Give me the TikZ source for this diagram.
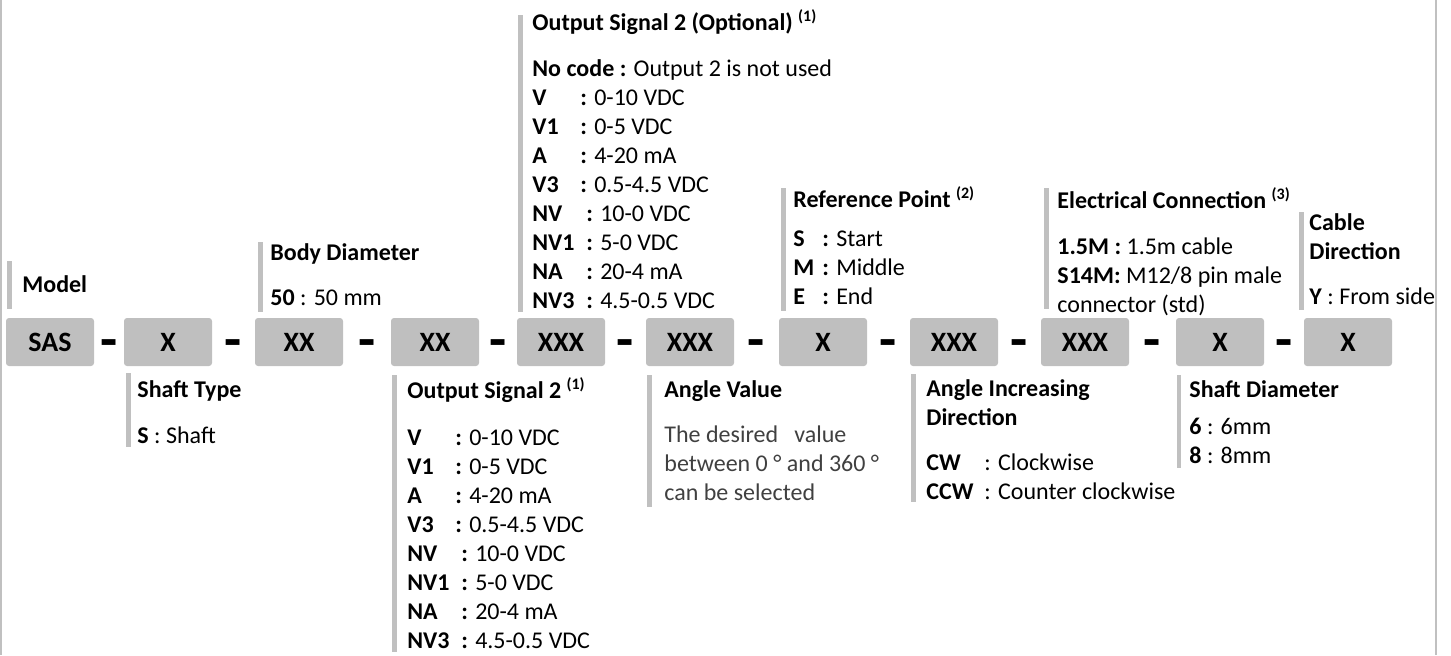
\documentclass[tikz,border=0pt]{standalone}
\usepackage{fontspec}
\setmainfont{Carlito}
\usepackage{xcolor}
\usetikzlibrary{calc}

\definecolor{boxgray}{HTML}{BFBFBF}
\definecolor{bargray}{HTML}{C0C0C0}
\definecolor{txtgray}{HTML}{404040}
% code column: fixed width key, then colon and value
\newcommand{\cd}[3]{\makebox[#1][l]{\textbf{#2}}\textbf{:} #3}
\newcommand{\refno}[1]{\textsuperscript{\bfseries(#1)}}

\begin{document}
\begin{tikzpicture}[x=0.5pt,y=-0.5pt,
    codebox/.style={fill=boxgray, rounded corners=1.5pt, minimum width=44pt, minimum height=24pt, inner sep=0pt, font=\bfseries\fontsize{14}{16}\selectfont},
    dashsep/.style={anchor=base, inner sep=0pt, font=\bfseries\fontsize{28}{30}\selectfont},
    legend/.style={anchor=base west, align=left, inner sep=0pt, font=\fontsize{12}{14.5}\selectfont}]
    \useasboundingbox (0,0) rectangle (1451,655);

    % frame sides
    \draw[bargray, line width=1pt] (1,0) -- (1,655);
    \draw[bargray, line width=1pt] (1436,0) -- (1436,655);

    % code boxes
    \node[codebox] (sas) at (50,342) {SAS};
    \node[codebox] (shaft) at (168,342) {X};
    \node[codebox] (body) at (299,342) {XX};
    \node[codebox] (outb) at (435,342) {XX};
    \node[codebox] (outa) at (561,342) {XXX};
    \node[codebox] (angle) at (690,342) {XXX};
    \node[codebox] (refpt) at (823,342) {X};
    \node[codebox] (dir) at (954,342) {XXX};
    \node[codebox] (elec) at (1085,342) {XXX};
    \node[codebox] (shaftd) at (1220,342) {X};
    \node[codebox] (cable) at (1348,342) {X};

    % separators
    \foreach \a/\b in {sas/shaft, shaft/body, body/outb, outb/outa, outa/angle, angle/refpt, refpt/dir, dir/elec, elec/shaftd, shaftd/cable}
        \node[dashsep] (dash-\a) at ($(\a.east)!0.5!(\b.west)+(0,16)$) {-};

    % legends above (nodes sit on their last baseline)
    \fill[bargray] (7,261) rectangle (12,309);
    \node[legend] (model-txt) at (22,292) {\textbf{Model}};

    \fill[bargray] (258,242) rectangle (263,312);
    \node[legend] (body-txt) at (270,305) {\textbf{Body Diameter}\\[8pt]
        \textbf{50} : 50 mm};

    \fill[bargray] (518,15) rectangle (523,312);
    \node[legend] (outa-txt) at (532,308) {\textbf{Output Signal 2 (Optional)} \refno{1}\\[8.5pt]
        \textbf{No code :} Output 2 is not used\\
        \cd{24pt}{V}{0-10 VDC}\\
        \cd{24pt}{V1}{0-5 VDC}\\
        \cd{24pt}{A}{4-20 mA}\\
        \cd{24pt}{V3}{0.5-4.5 VDC}\\
        \cd{27pt}{NV}{10-0 VDC}\\
        \cd{27pt}{NV1}{5-0 VDC}\\
        \cd{27pt}{NA}{20-4 mA}\\
        \cd{27pt}{NV3}{4.5-0.5 VDC}};

    \fill[bargray] (781,188) rectangle (786,311);
    \node[legend] (refpt-txt) at (793,304) {\textbf{Reference Point} \refno{2}\\[5pt]
        \cd{14.5pt}{S}{Start}\\
        \cd{14.5pt}{M}{Middle}\\
        \cd{14.5pt}{E}{End}};

    \fill[bargray] (1044,188) rectangle (1049,309);
    \node[legend] (elec-txt) at (1057,312) {\textbf{Electrical Connection} \refno{3}\\[8.5pt]
        \textbf{1.5M :} 1.5m cable\\
        \textbf{S14M:} M12/8 pin male\\
        connector (std)};

    \fill[bargray] (1299,212) rectangle (1304,310);
    \node[legend] (cable-txt) at (1309,304) {\textbf{Cable}\\
        \textbf{Direction}\\[8pt]
        \textbf{Y} : From side};

    % legends below
    \fill[bargray] (126,373) rectangle (131,447);
    \node[legend] (shaft-txt) at (137,443) {\textbf{Shaft Type}\\[8.5pt]
        \textbf{S} : Shaft};

    \fill[bargray] (392,375) rectangle (397,652);
    \node[legend] (outb-txt) at (407,648) {\textbf{Output Signal 2} \refno{1}\\[9pt]
        \cd{24pt}{V}{0-10 VDC}\\
        \cd{24pt}{V1}{0-5 VDC}\\
        \cd{24pt}{A}{4-20 mA}\\
        \cd{24pt}{V3}{0.5-4.5 VDC}\\
        \cd{27pt}{NV}{10-0 VDC}\\
        \cd{27pt}{NV1}{5-0 VDC}\\
        \cd{27pt}{NA}{20-4 mA}\\
        \cd{27pt}{NV3}{4.5-0.5 VDC}};

    \fill[bargray] (647,375) rectangle (652,507);
    \node[legend] (angle-txt) at (664,500) {\textbf{Angle Value}\\[8pt]
        \textcolor{txtgray}{The desired~~~value}\\
        \textcolor{txtgray}{between 0 ° and 360 °}\\
        \textcolor{txtgray}{can be selected}};

    \fill[bargray] (911,374) rectangle (916,502);
    \node[legend] (dir-txt) at (926,499) {\textbf{Angle Increasing}\\
        \textbf{Direction}\\[8pt]
        \makebox[29pt][l]{\textbf{CW}}: Clockwise\\
        \makebox[29pt][l]{\textbf{CCW}}: Counter clockwise};

    \fill[bargray] (1177,375) rectangle (1181,468);
    \node[legend] (shaftd-txt) at (1189,463) {\textbf{Shaft Diameter}\\[4pt]
        \textbf{6} : 6mm\\
        \textbf{8} : 8mm};
\end{tikzpicture}
\end{document}
